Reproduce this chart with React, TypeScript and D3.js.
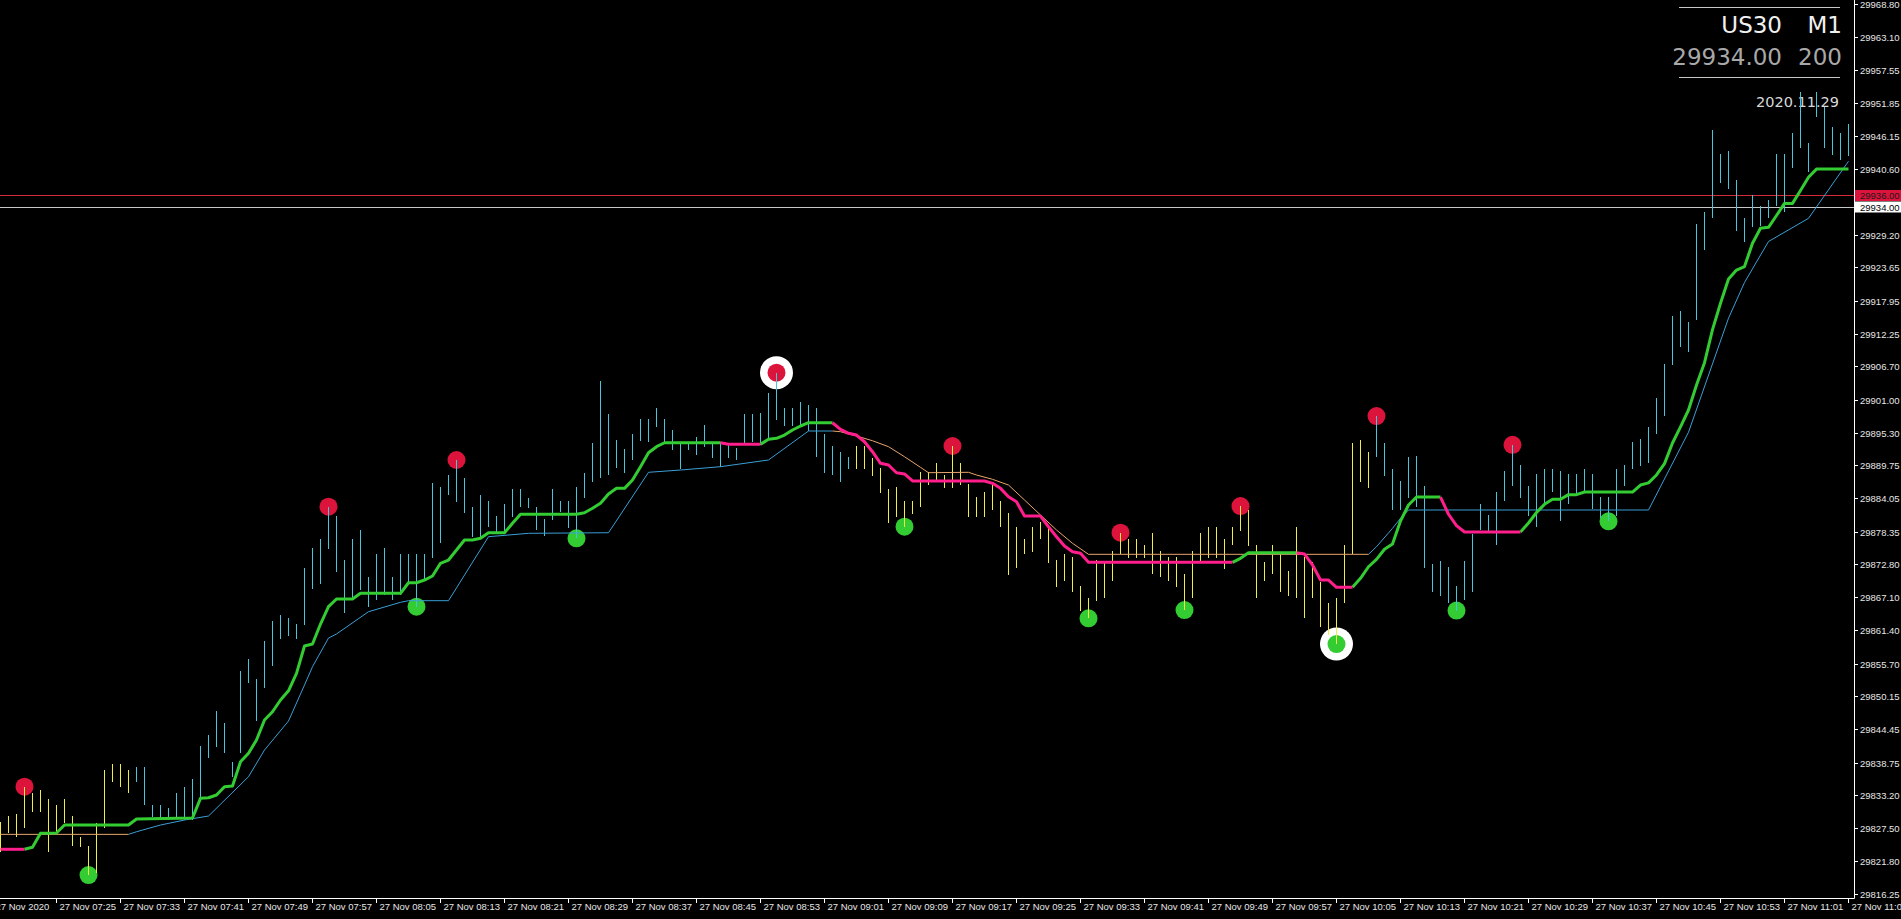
import React from 'react';
import * as d3 from 'd3';

const W = 1901;
const H = 919;
const PLOT_R = 1854;
const PLOT_B = 898;

// M1 bars, 07:18 .. 11:09 (index 0 = 07:18)
const highs = [
  29828.62, 29829.59, 29829.88, 29834.62, 29833.48, 29834.05, 29832.45, 29831.48, 29832.45, 29829.59,
  29826.05, 29824.45, 29828.45, 29837.48, 29838.51, 29838.51, 29837.48, 29837.94, 29837.94, 29831.48,
  29831.48, 29830.91, 29833.48, 29834.51, 29835.88, 29841.6, 29843.48, 29847.65, 29845.48, 29838.91,
  29854.51, 29856.51, 29853.14, 29859.6, 29863.03, 29864.06, 29863.48, 29862.51, 29872.11, 29875.6,
  29877.14, 29882.63, 29881.03, 29873.49, 29877.09, 29878.63, 29870.63, 29874.46, 29875.49, 29870.63,
  29874.52, 29874.52, 29874.52, 29874.52, 29886.63, 29886.06, 29888.06, 29890.63, 29887.49, 29882.63,
  29884.63, 29883.6, 29881.09, 29883.09, 29885.6, 29885.6, 29884.06, 29882.52, 29880.46, 29885.6,
  29883.6, 29883.6, 29886.06, 29888.46, 29893.6, 29904.17, 29898.52, 29894.06, 29892.52, 29895.09,
  29897.6, 29897.6, 29899.49, 29897.6, 29895.77, 29893.77, 29893.66, 29894.52, 29896.63, 29893.77,
  29893.77, 29893.2, 29892.63, 29898.46, 29898.46, 29898.63, 29902.06, 29905.6, 29899.49, 29899.49,
  29900.63, 29900.06, 29899.49, 29895.09, 29893.03, 29892.06, 29891.2, 29893.03, 29893.03, 29890.92,
  29889.2, 29885.6, 29886.06, 29883.66, 29883.66, 29888.63, 29888.63, 29890.06, 29888.06, 29893.03,
  29890.17, 29886.51, 29884.23, 29885.2, 29886.34, 29883.66, 29881.6, 29879.2, 29877.08, 29879.2,
  29880.06, 29878.91, 29873.48, 29874.51, 29874.06, 29869.03, 29866.91, 29873.48, 29872.91, 29875.03,
  29878.17, 29877.08, 29877.08, 29876.06, 29878.06, 29875.03, 29873.94, 29874.06, 29871.08, 29875.03,
  29878.06, 29879.2, 29879.2, 29877.08, 29879.2, 29882.74, 29882.06, 29876.06, 29873.2, 29876.06,
  29874.63, 29871.6, 29879.2, 29874.06, 29873.2, 29869.77, 29866.06, 29866.91, 29876.06, 29893.6,
  29894.06, 29892.06, 29898.17, 29893.6, 29889.03, 29887.09, 29891.2, 29891.23, 29886.09, 29872.77,
  29873.26, 29872.28, 29869.1, 29873.26, 29877.97, 29883.16, 29881.21, 29885.11, 29888.66, 29893.24,
  29889.76, 29886.09, 29888.17, 29889.15, 29889.15, 29888.66, 29888.17, 29888.17, 29889.15, 29888.17,
  29884.26, 29884.26, 29889.15, 29889.76, 29893.67, 29894.16, 29896.3, 29901.19, 29907.12, 29915.25,
  29916.17, 29914.21, 29931.14, 29933.16, 29947.21, 29943.06, 29943.55, 29938.66, 29932.18, 29936.03,
  29934.2, 29935.24, 29943.06, 29943.06, 29946.73, 29953.77, 29945.0, 29953.77, 29951.2, 29947.65,
  29946.72, 29948.23,
];

const lows = [
  29823.48, 29826.62, 29825.94, 29827.48, 29830.34, 29830.34, 29823.37, 29826.62, 29828.34, 29824.45,
  29824.34, 29819.48, 29819.77, 29827.48, 29835.48, 29834.51, 29833.48, 29835.48, 29831.48, 29829.48,
  29829.19, 29828.91, 29829.02, 29828.91, 29828.91, 29832.34, 29839.48, 29841.48, 29840.34, 29836.34,
  29840.34, 29852.34, 29845.94, 29851.48, 29855.31, 29859.94, 29860.51, 29859.94, 29862.34, 29868.46,
  29869.37, 29875.37, 29871.49, 29864.34, 29866.91, 29868.34, 29865.49, 29866.63, 29867.49, 29866.63,
  29867.49, 29869.49, 29865.49, 29870.06, 29873.77, 29876.34, 29884.63, 29883.49, 29881.49, 29877.49,
  29877.49, 29879.2, 29878.34, 29878.34, 29880.92, 29882.63, 29882.34, 29878.63, 29877.6, 29880.34,
  29881.77, 29878.92, 29877.2, 29884.06, 29886.92, 29887.49, 29888.06, 29889.2, 29888.34, 29890.63,
  29893.95, 29893.77, 29896.35, 29893.49, 29892.35, 29889.03, 29892.35, 29891.49, 29892.92, 29891.03,
  29889.49, 29890.92, 29890.63, 29893.49, 29893.77, 29893.2, 29894.34, 29897.49, 29896.46, 29896.46,
  29896.63, 29895.66, 29891.09, 29888.34, 29888.06, 29886.92, 29889.03, 29889.03, 29889.03, 29887.89,
  29885.03, 29879.89, 29880.92, 29879.2, 29881.37, 29882.52, 29886.34, 29886.92, 29885.88, 29885.88,
  29886.34, 29880.91, 29880.91, 29880.91, 29882.06, 29879.08, 29870.91, 29872.06, 29874.46, 29874.91,
  29877.03, 29873.03, 29868.91, 29869.94, 29867.94, 29864.8, 29863.48, 29866.51, 29866.91, 29869.94,
  29874.51, 29873.88, 29873.88, 29873.88, 29871.03, 29870.51, 29869.94, 29868.91, 29864.91, 29866.91,
  29873.37, 29873.88, 29873.88, 29871.94, 29876.06, 29878.51, 29875.88, 29866.91, 29869.94, 29871.03,
  29867.94, 29867.37, 29866.91, 29863.48, 29866.91, 29861.94, 29860.63, 29859.08, 29866.06, 29874.51,
  29886.91, 29885.88, 29891.09, 29887.94, 29882.06, 29882.06, 29884.06, 29882.55, 29872.16, 29868.0,
  29867.39, 29866.05, 29864.82, 29866.66, 29868.0, 29878.58, 29878.4, 29876.13, 29883.65, 29886.09,
  29884.08, 29881.02, 29879.19, 29882.86, 29885.12, 29880.11, 29883.16, 29884.69, 29885.12, 29882.24,
  29880.72, 29880.11, 29881.02, 29886.09, 29889.15, 29889.58, 29890.19, 29895.08, 29898.14, 29907.0,
  29910.05, 29909.13, 29914.64, 29926.56, 29932.06, 29938.05, 29937.07, 29929.92, 29928.08, 29930.53,
  29930.83, 29932.06, 29934.2, 29933.16, 29940.61, 29944.17, 29940.0, 29949.48, 29944.17, 29942.92,
  29942.14, 29942.74,
];

// bars painted in the "down" colour (inclusive index ranges)
const downBarRanges: [number, number][] = [[0, 16], [107, 171]];

// thick trend line: vertex bar index / value
const trendIdx = [
  0, 3, 4, 5, 7, 8, 16, 17, 24, 25, 26, 27, 28, 29, 30, 31, 32, 33, 34, 35, 36, 37, 38, 39, 40, 41, 42, 44, 45, 50,
  51, 52, 53, 54, 55, 56, 57, 58, 59, 60, 61, 63, 64, 65, 72, 73, 74, 75, 76, 77, 78, 79, 80, 81, 82, 83, 90, 91, 95, 96,
  97, 98, 99, 100, 101, 104, 105, 106, 107, 108, 109, 110, 111, 112, 113, 114, 123, 124, 125, 126, 127, 128, 130, 131, 132, 133, 134, 135, 136, 154,
  155, 156, 162, 163, 164, 165, 166, 167, 169, 170, 171, 172, 173, 174, 175, 176, 177, 180, 181, 182, 183, 190, 191, 192, 193, 194, 195, 196, 197, 198,
  204, 205, 206, 207, 208, 209, 210, 211, 212, 213, 214, 215, 216, 217, 218, 219, 220, 221, 222, 223, 224, 225, 226, 227, 231,
];
const trendVal = [
  29823.89, 29823.89, 29824.23, 29826.63, 29826.68, 29828.05, 29828.05, 29829.08, 29829.25, 29832.63, 29832.73, 29833.19, 29834.62, 29834.74, 29838.9, 29840.34, 29842.62, 29846.05, 29847.47, 29849.48, 29851.07, 29854.06, 29858.74, 29859.08, 29862.51, 29865.48, 29866.8, 29866.8, 29867.77, 29867.77,
  29869.59, 29869.59, 29870.05, 29870.74, 29872.92, 29873.48, 29875.2, 29876.91, 29876.91, 29877.2, 29878.16, 29878.16, 29879.77, 29881.32, 29881.32, 29881.59, 29882.35, 29883.2, 29884.8, 29885.77, 29885.77, 29887.2, 29889.48, 29891.88, 29892.91, 29893.59, 29893.59, 29893.32, 29893.32, 29894.17,
  29894.35, 29894.91, 29895.77, 29896.46, 29897.02, 29897.02, 29895.89, 29895.2, 29894.91, 29893.76, 29892.05, 29890.06, 29889.77, 29888.45, 29888.23, 29887.03, 29887.03, 29886.63, 29885.77, 29884.34, 29883.48, 29881.02, 29881.02, 29879.19, 29877.48, 29875.88, 29874.91, 29874.63, 29873.09, 29873.09,
  29873.77, 29874.73, 29874.73, 29874.51, 29872.63, 29870.05, 29870.05, 29868.8, 29868.8, 29870.34, 29872.33, 29873.6, 29875.32, 29876.23, 29880.17, 29882.91, 29884.28, 29884.28, 29881.33, 29879.38, 29878.28, 29878.28, 29879.83, 29881.63, 29883.03, 29883.89, 29883.89, 29884.69, 29884.69, 29885.14,
  29885.14, 29886.34, 29886.7, 29888.06, 29890.01, 29893.54, 29896.3, 29899.2, 29903.49, 29907.31, 29912.98, 29917.51, 29921.66, 29923.2, 29923.8, 29927.78, 29930.35, 29930.52, 29932.54, 29934.62, 29934.62, 29936.83, 29939.09, 29940.5, 29940.5,
];
const trendDownRanges: [number, number][] = [[0, 3], [90, 95], [104, 154], [162, 169], [180, 190]];

// thin stop line: vertex bar index / value
const stopIdx = [
  0, 16, 17, 20, 23, 26, 31, 33, 36, 38, 39, 41, 42, 46, 50, 51, 56, 61, 66, 76, 81, 85, 90, 96, 101, 104, 105, 107, 109, 111,
  113, 115, 116, 121, 122, 124, 126, 128, 130, 132, 134, 136, 171, 172, 174, 175, 176, 206, 211, 216, 218, 221, 226, 231,
];
const stopVal = [
  29826.45, 29826.45, 29826.9, 29828.05, 29828.91, 29829.59, 29836.33, 29840.91, 29845.88, 29852.05, 29855.19, 29860.11, 29860.8, 29864.62, 29866.23, 29866.51, 29866.51, 29877.48, 29878.06, 29878.16, 29888.52, 29888.91, 29889.48, 29890.63, 29895.6, 29895.6, 29895.48, 29894.74, 29893.93, 29892.91,
  29891.19, 29889.37, 29888.45, 29888.52, 29888.06, 29887.32, 29886.34, 29883.77, 29881.2, 29878.63, 29876.35, 29874.46, 29874.46, 29875.76, 29878.92, 29880.63, 29882.06, 29882.06, 29895.39, 29914.94, 29921.06, 29928.09, 29932.06, 29941.84,
];
const stopDownRanges: [number, number][] = [[0, 16], [104, 171]];

const peakIdx = [3, 41, 57, 97, 119, 140, 155, 172, 189];
const troughIdx = [11, 52, 72, 113, 136, 148, 167, 182, 201];
const ringIdx = [97, 167];

const priceTicks = [
  29968.8, 29963.1, 29957.55, 29951.85, 29946.15, 29940.6, 29929.2, 29923.65, 29917.95, 29912.25,
  29906.7, 29901.0, 29895.3, 29889.75, 29884.05, 29878.35, 29872.8, 29867.1, 29861.4, 29855.7,
  29850.15, 29844.45, 29838.75, 29833.2, 29827.5, 29821.8, 29816.25,
];
const timeTicks = [
  '07:25', '07:33', '07:41', '07:49', '07:57', '08:05', '08:13', '08:21', '08:29', '08:37',
  '08:45', '08:53', '09:01', '09:09', '09:17', '09:25', '09:33', '09:41', '09:49', '09:57',
  '10:05', '10:13', '10:21', '10:29', '10:37', '10:45', '10:53', '11:01', '11:09',
];
const firstBarTime = '07:18';
const dateLabel = '27 Nov 2020';

const askPrice = 29936.0;
const bidPrice = 29934.0;
const symbol = 'US30';
const timeframe = 'M1';
const spreadText = '200';
const infoDate = '2020.11.29';

const C = {
  bg: '#000000',
  up: '#47c5dc',
  dn: '#eeee44',
  trendUp: '#33cc33',
  trendDn: '#ff1e8c',
  stopUp: '#3a9fd6',
  stopDn: '#e9a56c',
  peak: '#dc143c',
  trough: '#33cc33',
  axis: '#ffffff',
  text: '#e6e6e6',
};

const toMin = (s: string) => {
  const [h, m] = s.split(':').map(Number);
  return h * 60 + m;
};

function complement(ranges: [number, number][], n: number): [number, number][] {
  const out: [number, number][] = [];
  let start = 0;
  ranges.forEach(([a, b]) => {
    if (a > start) out.push([start, a]);
    start = b;
  });
  if (start < n) out.push([start, n]);
  return out;
}

export default function App() {
  const n = highs.length - 1;
  const x = d3.scaleLinear().domain([0, n]).range([0.5, 0.5 + 8 * n]);
  const y = d3.scaleLinear().domain([29815.54, 29969.49]).range([PLOT_B, 0]);

  const line = d3
    .line<[number, number]>()
    .x((d) => x(d[0]))
    .y((d) => y(d[1]));

  const segPaths = (idx: number[], val: number[], ranges: [number, number][]) =>
    ranges.map(([a, b]) => {
      const pts: [number, number][] = [];
      idx.forEach((k, i) => {
        if (k >= a && k <= b) pts.push([k, val[i]]);
      });
      return line(pts) || '';
    });

  const isDown = (k: number) => downBarRanges.some(([a, b]) => k >= a && k <= b);

  const trendDn = segPaths(trendIdx, trendVal, trendDownRanges);
  const trendUp = segPaths(trendIdx, trendVal, complement(trendDownRanges, n));
  const stopDn = segPaths(stopIdx, stopVal, stopDownRanges);
  const stopUp = segPaths(stopIdx, stopVal, complement(stopDownRanges, n));

  const t0 = toMin(firstBarTime);
  const font = "'Liberation Sans', Arial, sans-serif";

  return (
    <div style={{ position: 'fixed', left: 0, top: 0, width: W, height: H, background: C.bg }}>
      <svg width={W} height={H} style={{ display: 'block', background: C.bg }}>
        <defs>
          <clipPath id="plot">
            <rect x={0} y={0} width={PLOT_R} height={PLOT_B} />
          </clipPath>
        </defs>

        {/* info panel */}
        <g fontFamily="'DejaVu Sans', Verdana, sans-serif">
          <line x1={1679} x2={1840} y1={7.5} y2={7.5} stroke="#c8c8c8" strokeWidth={1} />
          <text x={1782} y={33} fontSize={23} fill="#f0f0f0" textAnchor="end">{symbol}</text>
          <text x={1842} y={33} fontSize={23} fill="#f0f0f0" textAnchor="end">{timeframe}</text>
          <text x={1782} y={65} fontSize={23} fill="#a8a8a8" textAnchor="end">{bidPrice.toFixed(2)}</text>
          <text x={1842} y={65} fontSize={23} fill="#a8a8a8" textAnchor="end">{spreadText}</text>
          <line x1={1679} x2={1840} y1={77.5} y2={77.5} stroke="#c8c8c8" strokeWidth={1} />
          <text x={1839} y={107} fontSize={14.5} fill="#d8d8d8" textAnchor="end">{infoDate}</text>
        </g>

        <g clipPath="url(#plot)">
          {/* price lines */}
          <line x1={0} x2={PLOT_R} y1={Math.round(y(askPrice)) + 0.5} y2={Math.round(y(askPrice)) + 0.5} stroke="#d42a3a" strokeWidth={1} />
          <line x1={0} x2={PLOT_R} y1={Math.round(y(bidPrice)) + 0.5} y2={Math.round(y(bidPrice)) + 0.5} stroke="#c8c8c8" strokeWidth={1} />

          {/* swing markers */}
          {ringIdx.map((k) => {
            const isPeak = peakIdx.includes(k);
            return <circle key={'r' + k} cx={x(k)} cy={y(isPeak ? highs[k] : lows[k])} r={16.5} fill="#ffffff" />;
          })}
          {peakIdx.map((k) => (
            <circle key={'p' + k} cx={x(k)} cy={y(highs[k])} r={9} fill={C.peak} />
          ))}
          {troughIdx.map((k) => (
            <circle key={'t' + k} cx={x(k)} cy={y(lows[k])} r={9} fill={C.trough} />
          ))}

          {/* bars */}
          <g shapeRendering="crispEdges">
            {highs.map((h, k) => (
              <line
                key={'b' + k}
                x1={x(k)}
                x2={x(k)}
                y1={y(h)}
                y2={y(lows[k])}
                stroke={isDown(k) ? C.dn : C.up}
                strokeWidth={1}
              />
            ))}
          </g>

          {/* stop line */}
          {stopUp.map((d, i) => (
            <path key={'su' + i} d={d} fill="none" stroke={C.stopUp} strokeWidth={1} />
          ))}
          {stopDn.map((d, i) => (
            <path key={'sd' + i} d={d} fill="none" stroke={C.stopDn} strokeWidth={1} />
          ))}

          {/* trend line */}
          {trendUp.map((d, i) => (
            <path key={'tu' + i} d={d} fill="none" stroke={C.trendUp} strokeWidth={3} strokeLinejoin="round" />
          ))}
          {trendDn.map((d, i) => (
            <path key={'td' + i} d={d} fill="none" stroke={C.trendDn} strokeWidth={3} strokeLinejoin="round" />
          ))}
        </g>

        {/* axes */}
        <line x1={PLOT_R + 0.5} x2={PLOT_R + 0.5} y1={0} y2={PLOT_B + 0.5} stroke={C.axis} strokeWidth={1} />
        <line x1={0} x2={PLOT_R + 0.5} y1={PLOT_B + 0.5} y2={PLOT_B + 0.5} stroke={C.axis} strokeWidth={1} />

        <g fontFamily={font} fontSize={9.5} fill={C.text}>
          {priceTicks.map((p) => {
            const yy = Math.round(y(p)) + 0.5;
            return (
              <g key={'pt' + p}>
                <line x1={PLOT_R} x2={PLOT_R + 4} y1={yy} y2={yy} stroke={C.axis} />
                <text x={PLOT_R + 6} y={yy + 3.5}>{p.toFixed(2)}</text>
              </g>
            );
          })}

          {/* ask / bid boxes */}
          <rect x={PLOT_R + 1} y={190} width={W - PLOT_R} height={11} fill="#dc143c" />
          <text x={PLOT_R + 6} y={199} fill="#1a1a1a">{askPrice.toFixed(2)}</text>
          <rect x={PLOT_R + 1} y={201.5} width={W - PLOT_R} height={11} fill="#ffffff" />
          <text x={PLOT_R + 6} y={210.5} fill="#000000">{bidPrice.toFixed(2)}</text>

          {/* time axis */}
          {[{ label: dateLabel, k: -1 }, ...timeTicks.map((t) => ({ label: '27 Nov ' + t, k: toMin(t) - t0 }))].map(
            ({ label, k }) => {
              const xx = Math.round(x(k) - 0.5) + 0.5;
              return (
                <g key={'tt' + label}>
                  <line x1={xx} x2={xx} y1={PLOT_B} y2={PLOT_B + 5} stroke={C.axis} />
                  <text x={xx + 3} y={PLOT_B + 12}>{label}</text>
                </g>
              );
            }
          )}
        </g>
      </svg>
    </div>
  );
}
